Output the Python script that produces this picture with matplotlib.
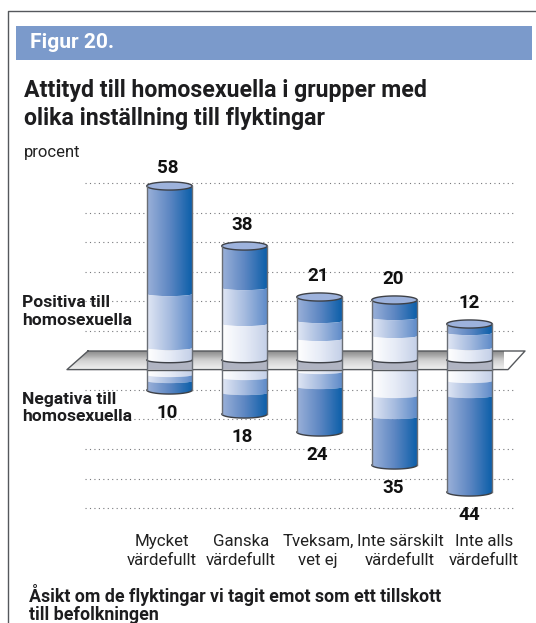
import numpy as np
import matplotlib
matplotlib.use("Agg")
import matplotlib.pyplot as plt
from matplotlib.patches import Polygon, Rectangle, PathPatch
from matplotlib.path import Path
from matplotlib.colors import LinearSegmentedColormap

W, H = 536, 623
FONT = ["Roboto", "DejaVu Sans"]

categories = ["Mycket\nvärdefullt", "Ganska\nvärdefullt", "Tveksam,\nvet ej",
              "Inte särskilt\nvärdefullt", "Inte alls\nvärdefullt"]
positive = [58, 38, 21, 20, 12]
negative = [10, 18, 24, 35, 44]
# band edges inside each cylinder (percent)
pos_dark_from = [22, 24, 13, 14, 9]
pos_mid_from = [4, 12, 7, 8, 4]
neg_light_to = [5, 6, 4, 12, 7]
neg_mid_to = [7, 11, 9, 19, 12]
grid_levels = [59, 49.1, 39.3, 29.5, 19.7, 9.8, -9.9, -19.8, -29.6, -39.5, -49.4]

DARK = LinearSegmentedColormap.from_list("dark", ["#9ab0d9", "#5c86c2", "#0a5ea9"])
MID = LinearSegmentedColormap.from_list("mid", ["#e0e6f4", "#a5bbdf", "#5d8ac8"])
LIGHT = LinearSegmentedColormap.from_list("light", ["#ffffff", "#e6ebf6", "#c3cfe7"])
TOPC = "#9db2dc"
EDGE = "#6a6e75"
HALF = 0.303
RY = 1.35
BEND = 0.7


def px(x, y):
    return x / W, 1 - y / H


def cyl_path(i, y0, y1, arc0, arc1):
    # band between y0 (upper) and y1 (lower), edges bulge downwards
    t = np.linspace(np.pi, 0, 40)
    xs = i + HALF * np.cos(t)
    upper = y0 - arc0 * np.sin(t)
    lower = y1 - arc1 * np.sin(t)
    verts = np.r_[np.c_[xs, upper], np.c_[xs[::-1], lower[::-1]], [[xs[0], upper[0]]]]
    return Path(verts)


def band(ax, i, y0, y1, cmap, arc0=BEND, arc1=BEND):
    grad = np.linspace(0, 1, 64).reshape(1, -1)
    im = ax.imshow(grad, cmap=cmap, extent=(i - HALF, i + HALF, y1 - RY, y0 + RY),
                   aspect="auto", zorder=3)
    im.set_clip_path(PathPatch(cyl_path(i, y0, y1, arc0, arc1), transform=ax.transData))


fig = plt.figure(figsize=(W / 100, H / 100), dpi=100, facecolor="white")
ax = fig.add_axes([0, 0, 1, 1])
ax.set_xlim(-169.5 / 75, (W - 169.5) / 75)
ax.set_ylim((360 - H) / 3, 120)
ax.axis("off")

# frame and header
fig.add_artist(plt.Line2D([7.5 / W, 7.5 / W, 1], [0, 1 - 11 / H, 1 - 11 / H], color="#55585c", lw=1))
fig.add_artist(Rectangle(px(16, 60), 516 / W, 34 / H, transform=fig.transFigure, color="#7b9acb", lw=0))

# grid
gx0, gx1 = (85.5 - 169.5) / 75, (514 - 169.5) / 75
for g in grid_levels:
    ax.plot([gx0, gx1], [g, g], color="#77787c", lw=0.8, dashes=(1, 3), zorder=1)

# plane
y_top, y_bot = 3, -3.2
x_a, x_b = (67 - 169.5) / 75, (88 - 169.5) / 75
x_c, x_d = (525 - 169.5) / 75, (508 - 169.5) / 75
plane = Polygon([(x_a, y_bot), (x_b, y_top), (x_c, y_top), (x_d, y_bot)], closed=True,
                facecolor="white", edgecolor="none", zorder=2)
ax.add_patch(plane)
shade = LinearSegmentedColormap.from_list("shade", ["#f0f0f0", "#d2d2d2", "#8c8c8c"])
im = ax.imshow(np.linspace(0, 1, 16).reshape(-1, 1), cmap=shade, origin="lower",
               extent=(x_a, (503 - 169.5) / 75, y_bot, y_top), aspect="auto", zorder=2)
im.set_clip_path(plane)
ax.plot([x_b, x_a, x_d, x_c, x_b], [y_top, y_bot, y_bot, y_top, y_top], color="#55585c", lw=1, zorder=2.5)

# cylinders
for i in range(5):
    top = positive[i]
    low = -negative[i]
    band(ax, i, top, pos_dark_from[i], DARK, arc0=0)
    band(ax, i, pos_dark_from[i], pos_mid_from[i], MID)
    band(ax, i, pos_mid_from[i], 0, LIGHT, arc1=0.9)

    # piece seen through the plane
    ax.add_patch(Rectangle((i - HALF, y_bot), 2 * HALF, -y_bot, color="#b0b4c2", lw=0, zorder=2.7))
    ax.plot([i - HALF, i + HALF], [y_bot, y_bot], color="#55585c", lw=1, zorder=3.5)

    band(ax, i, y_bot, -neg_light_to[i], LIGHT, arc0=0)
    band(ax, i, -neg_light_to[i], -neg_mid_to[i], MID)
    band(ax, i, -neg_mid_to[i], low, DARK, arc1=RY)

    t = np.linspace(0, 2 * np.pi, 80)
    ax.fill(i + HALF * np.cos(t), top + RY * np.sin(t), facecolor=TOPC, edgecolor="#3d4046", lw=1, zorder=4)
    t = np.linspace(np.pi, 2 * np.pi, 40)
    ax.plot(i + HALF * np.cos(t), 0.9 * np.sin(t), color="#3d4046", lw=1, zorder=4)
    ax.plot(i + HALF * np.cos(t), low + RY * np.sin(t), color="#3d4046", lw=1, zorder=4)
    for sx in (i - HALF, i + HALF):
        ax.plot([sx, sx], [top, low], color=EDGE, lw=1, zorder=4)

    shift = 0 if i == 4 else -0.025
    ax.text(i + shift, top + (6 if i == 0 else 7), str(positive[i]), ha="center", va="center", fontsize=13.5,
            fontweight="bold", family=FONT, color="#111111", zorder=5)
    ax.text(i + shift, low - 7.7, str(negative[i]), ha="center", va="center", fontsize=13.5,
            fontweight="bold", family=FONT, color="#111111", zorder=5)

# category labels
label_x = [162, 241, 318, 400, 484]
for lx, c in zip(label_x, categories):
    fig.text(lx / W, 1 - 551 / H, c, ha="center", va="center", fontsize=12.2, family=FONT,
             color="#222222", linespacing=1.35)


def txt(x, y, s, **kw):
    fig.text(x / W, 1 - y / H, s, family=FONT, va="center", **kw)


txt(30, 43, "Figur 20.", fontsize=15.1, fontweight="bold", color="white")
txt(24, 90, "Attityd till homosexuella i grupper med", fontsize=16.7, fontweight="bold", color="#1d1d1f")
txt(24, 118, "olika inställning till flyktingar", fontsize=16.7, fontweight="bold", color="#1d1d1f")
txt(24, 152, "procent", fontsize=12, color="#222222")
txt(22, 311.5, "Positiva till\nhomosexuella", fontsize=12.6, fontweight="bold", color="#1d1d1f", linespacing=1.22)
txt(22, 408, "Negativa till\nhomosexuella", fontsize=12.6, fontweight="bold", color="#1d1d1f", linespacing=1.22)
txt(29, 604, "Åsikt om de flyktingar vi tagit emot som ett tillskott\ntill befolkningen", fontsize=12.8,
    fontweight="bold", color="#1d1d1f", linespacing=1.03)

fig.savefig("out.png", dpi=100)
